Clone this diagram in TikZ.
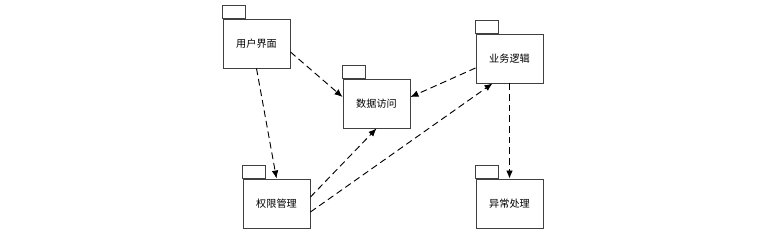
\documentclass[tikz,border=0pt]{standalone}
\usepackage{fontspec}
\newfontfamily\cjk{Noto Sans CJK SC}
\usetikzlibrary{arrows.meta,calc}
\begin{document}
\begin{tikzpicture}[x=0.75pt,y=-0.75pt,
  pkg/.style={draw=black!75,fill=white,line width=0.7pt,minimum width=50.25pt,minimum height=36.75pt,inner sep=0pt,font=\cjk\fontsize{7.6pt}{9pt}\selectfont},
  tab/.style={draw=black!75,line width=0.7pt,fill=white},
  dep/.style={-{Latex[length=6pt,width=5pt]},line width=0.7pt,dash pattern=on 5pt off 3pt}]
\useasboundingbox (0,0) rectangle (769,235);
\node[pkg] (ui) at (256.5,43.5) {用户界面};
\node[pkg] (da) at (376.5,103.5) {数据访问};
\node[pkg] (biz) at (509.5,58.5) {业务逻辑};
\node[pkg] (perm) at (276.5,203.5) {权限管理};
\node[pkg] (ex) at (509.5,203.5) {异常处理};
\foreach \n in {ui,da,biz,perm,ex}{
  \draw[tab] (\n.north west) rectangle ++(23,-13);
}
\draw[dep] ($(ui.north east)!0.67!(ui.south east)$) -- ($(da.north west)!0.37!(da.south west)$);
\draw[dep] (ui.south) -- (perm.north);
\draw[dep] ($(biz.north west)!0.69!(biz.south west)$) -- ($(da.north east)!0.37!(da.south east)$);
\draw[dep] ($(perm.north east)!0.37!(perm.south east)$) -- (da.south);
\draw[dep] ($(perm.north east)!0.67!(perm.south east)$) -- ($(biz.south west)!0.25!(biz.south east)$);
\draw[dep] (biz.south) -- (ex.north);
\end{tikzpicture}
\end{document}
